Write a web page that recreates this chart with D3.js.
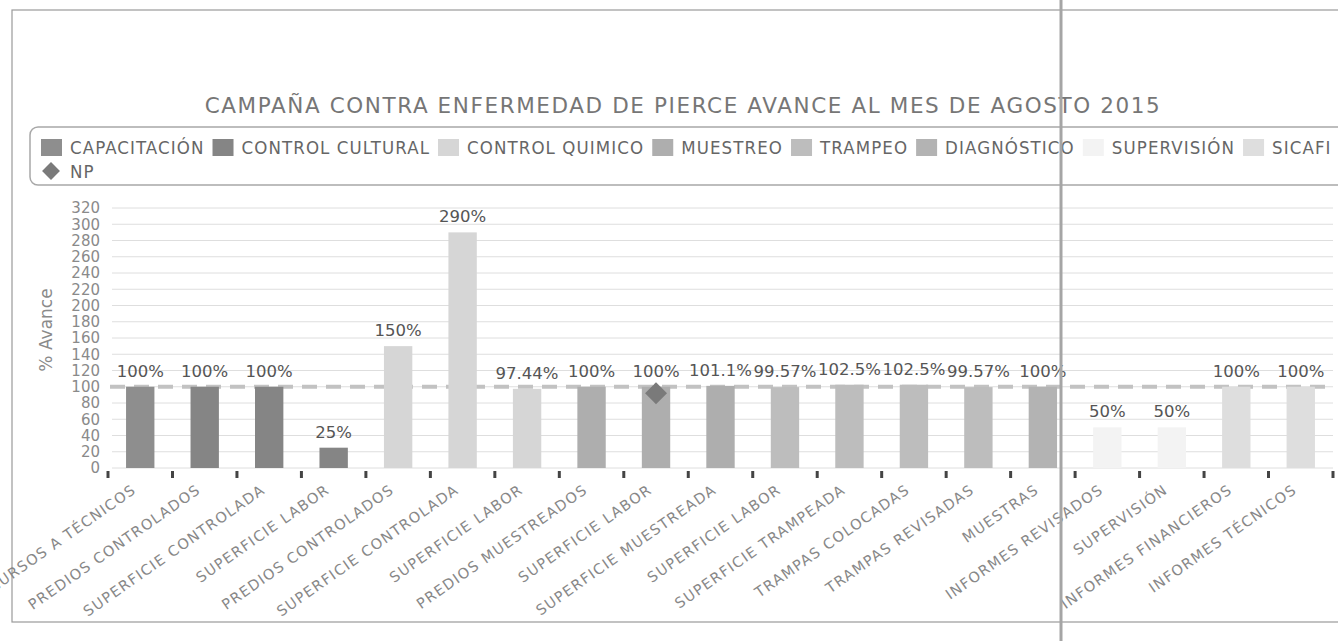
<!DOCTYPE html>
<meta charset="utf-8">
<head>
    <title>Campaña contra enfermedad de Pierce</title>
</head>
<style>
    body { margin: 0; background: #fff; }
    svg { display: block; }
    text { font-family: "DejaVu Sans", sans-serif; }
    .grid line { stroke: #dedede; stroke-width: 1px; }
    .ylab { font-size: 15px; fill: #8a8a8a; text-anchor: end; }
    .xlab { font-size: 14.5px; fill: #888; letter-spacing: 1.3px; text-anchor: end; }
    .val { font-size: 16.5px; fill: #555; text-anchor: middle; }
    .legend text { font-family: "DejaVu Sans Condensed", "DejaVu Sans", sans-serif; font-size: 18.5px; letter-spacing: 1.1px; fill: #666; }
</style>
<svg width="1338" height="641"></svg>
<script src="https://d3js.org/d3.v7.min.js"></script>
<script>

    var categories = ["CURSOS A TÉCNICOS", "PREDIOS CONTROLADOS", "SUPERFICIE CONTROLADA", "SUPERFICIE LABOR",
        "PREDIOS CONTROLADOS", "SUPERFICIE CONTROLADA", "SUPERFICIE LABOR", "PREDIOS MUESTREADOS",
        "SUPERFICIE LABOR", "SUPERFICIE MUESTREADA", "SUPERFICIE LABOR", "SUPERFICIE TRAMPEADA",
        "TRAMPAS COLOCADAS", "TRAMPAS REVISADAS", "MUESTRAS", "INFORMES REVISADOS", "SUPERVISIÓN",
        "INFORMES FINANCIEROS", "INFORMES TÉCNICOS"];
    var categoryGroup = ["CAPACITACIÓN", "CONTROL CULTURAL", "CONTROL CULTURAL", "CONTROL CULTURAL",
        "CONTROL QUIMICO", "CONTROL QUIMICO", "CONTROL QUIMICO", "MUESTREO",
        "MUESTREO", "MUESTREO", "TRAMPEO", "TRAMPEO",
        "TRAMPEO", "TRAMPEO", "DIAGNÓSTICO", "SUPERVISIÓN", "SUPERVISIÓN",
        "SICAFI", "SICAFI"];
    var avance = [100, 100, 100, 25, 150, 290, 97.44, 100, 100, 101.1, 99.57, 102.5, 102.5, 99.57, 100, 50, 50, 100, 100];
    var meta = [100, 100, 100, 100, 100, 100, 100, 100, 100, 100, 100, 100, 100, 100, 100, 100, 100, 100, 100];
    var np = [null, null, null, null, null, null, null, null, 92, null, null, null, null, null, null, null, null, null, null];

    var series = ["CAPACITACIÓN", "CONTROL CULTURAL", "CONTROL QUIMICO", "MUESTREO", "TRAMPEO", "DIAGNÓSTICO", "SUPERVISIÓN", "SICAFI"];
    var seriesColors = ["#8e8e8e", "#858585", "#d6d6d6", "#aeaeae", "#bdbdbd", "#b3b3b3", "#f3f3f3", "#dedede"];
    var yTicks = [0, 20, 40, 60, 80, 100, 120, 140, 160, 180, 200, 220, 240, 260, 280, 300, 320];

    var svg = d3.select("svg");
    var color = d3.scaleOrdinal().domain(series).range(seriesColors);

    var x = d3.scaleBand()
        .domain(d3.range(categories.length))
        .range([108, 1333])
        .paddingInner(0.56)
        .paddingOuter(0.28);
    var y = d3.scaleLinear().domain([0, 320]).range([468, 208]);
    var step = x.step();

    // marco exterior
    svg.append("rect")
        .attr("x", 12).attr("y", 10).attr("width", 1340).attr("height", 612)
        .attr("fill", "none").attr("stroke", "#9a9a9a").attr("stroke-width", 1.2);

    // titulo
    svg.append("text")
        .attr("x", 683).attr("y", 113)
        .attr("text-anchor", "middle")
        .style("font-size", "21.5px").style("letter-spacing", "1.6px")
        .attr("fill", "#767676")
        .text("CAMPAÑA CONTRA ENFERMEDAD DE PIERCE AVANCE AL MES DE AGOSTO 2015");

    // leyenda
    var legend = svg.append("g").attr("class", "legend");
    legend.append("rect")
        .attr("x", 30).attr("y", 127).attr("width", 1320).attr("height", 58).attr("rx", 8)
        .attr("fill", "none").attr("stroke", "#a8a8a8").attr("stroke-width", 1.5);

    var lx = 41;
    series.forEach(function(s) {
        legend.append("rect")
            .attr("x", lx).attr("y", 139).attr("width", 21).attr("height", 17)
            .attr("fill", color(s));
        var t = legend.append("text")
            .attr("x", lx + 29).attr("y", 154)
            .text(s);
        lx += 29 + t.node().getComputedTextLength() + 8;
    });
    legend.append("path")
        .attr("d", d3.symbol().type(d3.symbolSquare).size(160)())
        .attr("transform", "translate(51,171) rotate(45)")
        .attr("fill", "#7a7a7a");
    legend.append("text").attr("x", 70).attr("y", 178).text("NP");

    // eje y
    svg.append("g").attr("class", "grid")
        .selectAll("line")
        .data(yTicks)
        .join("line")
        .attr("x1", 112).attr("x2", 1333)
        .attr("y1", function(d) { return y(d); })
        .attr("y2", function(d) { return y(d); });

    svg.append("g").selectAll("text")
        .data(yTicks)
        .join("text")
        .attr("class", "ylab")
        .attr("x", 100)
        .attr("y", function(d) { return y(d); })
        .attr("dy", "0.36em")
        .text(function(d) { return d; });

    svg.append("text")
        .attr("transform", "translate(52,330) rotate(-90)")
        .attr("text-anchor", "middle")
        .style("font-size", "17px")
        .attr("fill", "#8a8a8a")
        .text("% Avance");

    // meta 100%
    svg.append("path")
        .datum(meta)
        .attr("d", d3.line()
            .x(function(d, i) { return i === 0 ? 110 : (i === meta.length - 1 ? 1333 : x(i) + x.bandwidth() / 2); })
            .y(function(d) { return y(d); }))
        .attr("fill", "none")
        .attr("stroke", "#c2c2c2")
        .attr("stroke-width", 4)
        .attr("stroke-dasharray", "15,9");

    // barras
    svg.append("g").selectAll("rect")
        .data(avance)
        .join("rect")
        .attr("x", function(d, i) { return x(i); })
        .attr("y", function(d) { return y(d); })
        .attr("width", x.bandwidth())
        .attr("height", function(d) { return y(0) - y(d); })
        .attr("fill", function(d, i) { return color(categoryGroup[i]); });

    svg.append("g").selectAll("text")
        .data(avance)
        .join("text")
        .attr("class", "val")
        .attr("x", function(d, i) { return x(i) + x.bandwidth() / 2; })
        .attr("y", function(d) { return y(d) - 10; })
        .text(function(d) { return d + "%"; });

    // NP
    svg.append("g").selectAll("path")
        .data(np.map(function(v, i) { return {v: v, i: i}; }).filter(function(d) { return d.v !== null; }))
        .join("path")
        .attr("d", d3.symbol().type(d3.symbolSquare).size(240)())
        .attr("transform", function(d) { return "translate(" + (x(d.i) + x.bandwidth() / 2) + "," + y(d.v) + ") rotate(45)"; })
        .attr("fill", "#7a7a7a");

    // marcas del eje x
    svg.append("g").selectAll("line")
        .data(d3.range(categories.length + 1))
        .join("line")
        .attr("x1", function(i) { return 108 + i * step; })
        .attr("x2", function(i) { return 108 + i * step; })
        .attr("y1", y(0) + 3).attr("y2", y(0) + 10)
        .attr("stroke", "#444").attr("stroke-width", 3);

    svg.append("g").selectAll("text")
        .data(categories)
        .join("text")
        .attr("class", "xlab")
        .attr("transform", function(d, i) {
            return "translate(" + (x(i) + x.bandwidth() / 2 - 3) + "," + (y(0) + 24) + ") rotate(-35)";
        })
        .text(function(d) { return d; });

    // linea del escaneo
    svg.append("line")
        .attr("x1", 1061).attr("x2", 1061).attr("y1", 0).attr("y2", 641)
        .attr("stroke", "#a5a5a5").attr("stroke-width", 3);

</script>
